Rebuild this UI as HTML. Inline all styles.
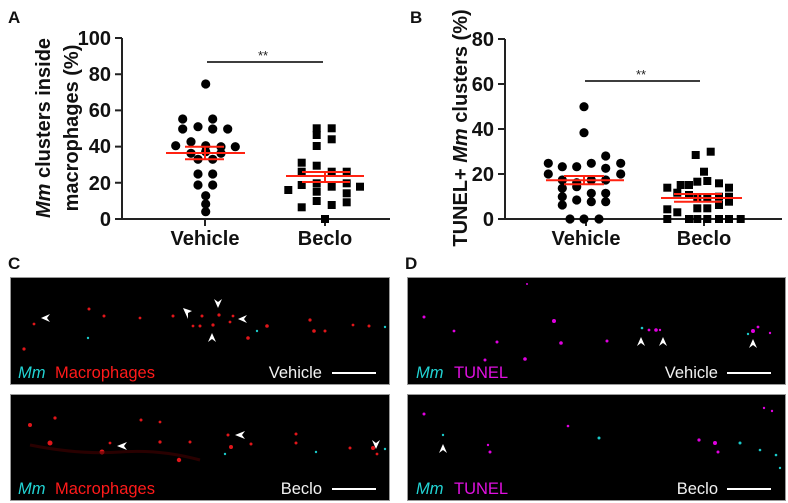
<!DOCTYPE html>
<html><head><meta charset="utf-8"><style>
html,body{margin:0;padding:0;background:#fff}
svg{display:block}
text{font-family:"Liberation Sans",Arial,sans-serif}
</style></head><body>
<svg width="788" height="503" viewBox="0 0 788 503" xmlns="http://www.w3.org/2000/svg">
<rect width="788" height="503" fill="#fff"/>
<g font-weight="bold" font-size="17" fill="#111">
<text x="8" y="23">A</text>
<text x="410" y="23">B</text>
<text x="8" y="269">C</text>
<text x="405" y="269">D</text>
</g>

<g stroke="#222" stroke-width="2" fill="none">
<path d="M122,38 V219 H390"/>
<path d="M115,38H122M115,74.2H122M115,110.4H122M115,146.6H122M115,182.8H122M115,219H122"/>
<path d="M205,219V226M325,219V226"/>
<path d="M207,62H323" stroke-width="1.8"/>
</g>
<g font-weight="bold" font-size="20" fill="#111" text-anchor="end">
<text x="111" y="45">100</text>
<text x="111" y="81">80</text>
<text x="111" y="117">60</text>
<text x="111" y="153">40</text>
<text x="111" y="190">20</text>
<text x="111" y="226">0</text>
</g>
<text x="263" y="60" font-size="13" text-anchor="middle" fill="#222">**</text>
<g font-weight="bold" font-size="20" fill="#111" text-anchor="middle">
<text x="205" y="245">Vehicle</text>
<text x="325" y="245">Beclo</text>
</g>
<g font-size="20" font-weight="bold" fill="#111" text-anchor="middle">
<text transform="translate(50,128) rotate(-90)"><tspan font-style="italic">Mm</tspan> clusters inside</text>
<text transform="translate(78,128) rotate(-90)">macrophages (%)</text>
</g>
<g fill="#000">
<circle cx="205.7" cy="84" r="4.6"/><circle cx="182.7" cy="119" r="4.6"/><circle cx="212.7" cy="119" r="4.6"/>
<circle cx="198" cy="126.7" r="4.6"/><circle cx="182.7" cy="129" r="4.6"/><circle cx="212.7" cy="129" r="4.6"/>
<circle cx="227.7" cy="129" r="4.6"/><circle cx="175.7" cy="145.7" r="4.6"/><circle cx="191" cy="141.7" r="4.6"/>
<circle cx="205.7" cy="145.7" r="4.6"/><circle cx="221" cy="146.7" r="4.6"/><circle cx="235.3" cy="146.7" r="4.6"/>
<circle cx="191" cy="153.3" r="4.6"/><circle cx="205.7" cy="151.7" r="4.6"/><circle cx="221" cy="153.3" r="4.6"/>
<circle cx="198" cy="159.3" r="4.6"/><circle cx="212.7" cy="159.3" r="4.6"/><circle cx="198" cy="174" r="4.6"/>
<circle cx="212.7" cy="174" r="4.6"/><circle cx="198" cy="185" r="4.6"/><circle cx="212.7" cy="185" r="4.6"/>
<circle cx="205.7" cy="195.7" r="4.6"/><circle cx="205.7" cy="204" r="4.6"/><circle cx="205.7" cy="211.7" r="4.6"/>
</g>
<g fill="#000">
<rect x="312.7" y="124.3" width="8" height="8"/><rect x="327.7" y="124.3" width="8" height="8"/>
<rect x="312.7" y="131" width="8" height="8"/><rect x="327.7" y="135.3" width="8" height="8"/>
<rect x="312.7" y="142" width="8" height="8"/><rect x="297.7" y="158.7" width="8" height="8"/>
<rect x="312.7" y="161.7" width="8" height="8"/><rect x="327.7" y="167.7" width="8" height="8"/>
<rect x="342.7" y="167.7" width="8" height="8"/><rect x="297.7" y="167.7" width="8" height="8"/>
<rect x="284.3" y="186" width="8" height="8"/><rect x="297.7" y="181" width="8" height="8"/>
<rect x="312.7" y="179.3" width="8" height="8"/><rect x="327.7" y="182.7" width="8" height="8"/>
<rect x="342.7" y="179.3" width="8" height="8"/><rect x="312.7" y="187.7" width="8" height="8"/>
<rect x="342.7" y="189.3" width="8" height="8"/><rect x="356" y="182.7" width="8" height="8"/>
<rect x="297.7" y="203.3" width="8" height="8"/><rect x="312.7" y="197" width="8" height="8"/>
<rect x="327.7" y="201" width="8" height="8"/><rect x="342.7" y="198.3" width="8" height="8"/>
<rect x="321" y="215" width="8" height="8"/>
</g>
<g stroke="#f21" stroke-width="2" fill="none">
<path d="M166,153H245M185,146.7H224M185,159.3H224M205,146.7V159.3"/>
<path d="M286,176H364M302,172H350M302,182H350M325,172V182"/>
</g>

<g stroke="#222" stroke-width="2" fill="none">
<path d="M505,39 V219 H782"/>
<path d="M498,39H505M498,84H505M498,129H505M498,174H505M498,219H505"/>
<path d="M586,219V226M704,219V226"/>
<path d="M585,81H700" stroke-width="1.8"/>
</g>
<g font-weight="bold" font-size="20" fill="#111" text-anchor="end">
<text x="494" y="46">80</text>
<text x="494" y="91">60</text>
<text x="494" y="136">40</text>
<text x="494" y="181">20</text>
<text x="494" y="226">0</text>
</g>
<text x="641" y="79" font-size="13" text-anchor="middle" fill="#222">**</text>
<g font-weight="bold" font-size="20" fill="#111" text-anchor="middle">
<text x="586" y="245">Vehicle</text>
<text x="704" y="245">Beclo</text>
</g>
<text transform="translate(467,128) rotate(-90)" font-size="20" font-weight="bold" fill="#111" text-anchor="middle">TUNEL+ <tspan font-style="italic">Mm</tspan> clusters (%)</text>
<g fill="#000">
<circle cx="584" cy="106.7" r="4.6"/><circle cx="584" cy="132.7" r="4.6"/><circle cx="605.7" cy="156" r="4.6"/>
<circle cx="548.3" cy="163.3" r="4.6"/><circle cx="562.3" cy="166.7" r="4.6"/><circle cx="576.7" cy="166.7" r="4.6"/>
<circle cx="591.3" cy="163.3" r="4.6"/><circle cx="605.7" cy="168.3" r="4.6"/><circle cx="620.7" cy="163.3" r="4.6"/>
<circle cx="548.3" cy="174" r="4.6"/><circle cx="620.7" cy="174" r="4.6"/><circle cx="562.3" cy="180" r="4.6"/>
<circle cx="576.7" cy="182.7" r="4.6"/><circle cx="591.3" cy="180" r="4.6"/><circle cx="605.7" cy="180" r="4.6"/>
<circle cx="562.3" cy="188.3" r="4.6"/><circle cx="576.7" cy="186.7" r="4.6"/><circle cx="591.3" cy="193.3" r="4.6"/>
<circle cx="605.7" cy="193.3" r="4.6"/><circle cx="562.3" cy="196.7" r="4.6"/><circle cx="576.7" cy="200" r="4.6"/>
<circle cx="591.3" cy="201.7" r="4.6"/><circle cx="605.7" cy="201.7" r="4.6"/><circle cx="562.3" cy="205" r="4.6"/>
<circle cx="570" cy="219" r="4.6"/><circle cx="584" cy="219" r="4.6"/><circle cx="599" cy="219" r="4.6"/>
</g>
<g fill="#000">
<rect x="691.7" y="151" width="8" height="8"/><rect x="706.7" y="147.7" width="8" height="8"/>
<rect x="700" y="167.7" width="8" height="8"/><rect x="663.3" y="183.7" width="8" height="8"/>
<rect x="676.7" y="181" width="8" height="8"/><rect x="685" y="181" width="8" height="8"/>
<rect x="693.3" y="177.7" width="8" height="8"/><rect x="703.3" y="177" width="8" height="8"/>
<rect x="715" y="179.3" width="8" height="8"/><rect x="725" y="183.7" width="8" height="8"/>
<rect x="673.3" y="188.7" width="8" height="8"/><rect x="685" y="191" width="8" height="8"/>
<rect x="693.3" y="194.3" width="8" height="8"/><rect x="703.3" y="194.3" width="8" height="8"/>
<rect x="715" y="192.7" width="8" height="8"/><rect x="725" y="192.7" width="8" height="8"/>
<rect x="663.3" y="205.3" width="8" height="8"/><rect x="673.3" y="208.3" width="8" height="8"/>
<rect x="693.3" y="204.3" width="8" height="8"/><rect x="703.3" y="204.3" width="8" height="8"/>
<rect x="715" y="201" width="8" height="8"/><rect x="725" y="197.7" width="8" height="8"/>
<rect x="663.3" y="215" width="8" height="8"/><rect x="685" y="215" width="8" height="8"/>
<rect x="693.3" y="215" width="8" height="8"/><rect x="703.3" y="215" width="8" height="8"/>
<rect x="715" y="215" width="8" height="8"/><rect x="725" y="215" width="8" height="8"/>
<rect x="736.7" y="215" width="8" height="8"/>
</g>
<g stroke="#f21" stroke-width="2" fill="none">
<path d="M546,180.3H624M564,176H604M564,184.3H604M584,176V184.3"/>
<path d="M661,198H742M674,194H722M674,201.7H722M698,194V201.7"/>
</g>

<g stroke="#999" stroke-width="1">
<rect x="10.5" y="277.5" width="379" height="107" fill="#000"/>
<rect x="10.5" y="394.5" width="379" height="106" fill="#000"/>
<rect x="407.5" y="277.5" width="378" height="107" fill="#000"/>
<rect x="407.5" y="394.5" width="378" height="106" fill="#000"/>
</g>
<g fill="#e0161a">
<circle cx="34" cy="324" r="1.4"/><circle cx="89" cy="309" r="1.5"/><circle cx="104" cy="316" r="1.5"/>
<circle cx="24" cy="349" r="1.6"/><circle cx="140" cy="318" r="1.4"/><circle cx="173" cy="316" r="1.5"/>
<circle cx="193" cy="326" r="1.4"/><circle cx="202" cy="316" r="1.5"/><circle cx="219" cy="315" r="1.6"/>
<circle cx="213" cy="325" r="1.6"/><circle cx="230" cy="322" r="1.4"/><circle cx="248" cy="338" r="1.8"/>
<circle cx="267" cy="326" r="1.8"/><circle cx="310" cy="320" r="1.6"/><circle cx="314" cy="331" r="1.8"/>
<circle cx="325" cy="331" r="1.5"/><circle cx="353" cy="325" r="1.4"/><circle cx="369" cy="326" r="1.5"/>
<circle cx="200" cy="326" r="1.5"/><circle cx="233" cy="316" r="1.4"/>
</g>
<g fill="#1ac8c8"><circle cx="88" cy="338" r="1.2"/><circle cx="385" cy="327" r="1.2"/><circle cx="257" cy="331" r="1.2"/></g>
<g fill="#fff">
<path d="M41,318 l9,-4 l-3,4 l3,4z"/>
<path d="M183,308 l9,3 l-4,2 l0,6z"/>
<path d="M218,303 l-4,9 l4,-3 l4,3z" transform="translate(0,-3) rotate(180 218 307)"/>
<path d="M238,319 l9,-4 l-3,4 l3,4z"/>
<path d="M212,343 l-4,-9 l4,3 l4,-3z" transform="rotate(180 212 338)"/>
</g>
<g font-size="16.5">
<text x="18" y="378" fill="#22d4d4" font-style="italic">Mm</text>
<text x="55" y="378" fill="#ff1a1a">Macrophages</text>
<text x="322" y="378" fill="#f2f2f2" text-anchor="end">Vehicle</text>
<text x="18" y="494" fill="#22d4d4" font-style="italic">Mm</text>
<text x="55" y="494" fill="#ff1a1a">Macrophages</text>
<text x="322" y="494" fill="#f2f2f2" text-anchor="end">Beclo</text>
</g>
<rect x="332" y="372" width="44" height="2" fill="#fff"/>
<rect x="332" y="488" width="44" height="2" fill="#fff"/>
<g fill="#e0161a">
<circle cx="30" cy="425" r="2"/><circle cx="50" cy="443" r="2.5"/><circle cx="55" cy="418" r="1.6"/>
<circle cx="102" cy="452" r="2.5"/><circle cx="110" cy="443" r="1.4"/><circle cx="141" cy="420" r="1.5"/>
<circle cx="160" cy="442" r="1.6"/><circle cx="179" cy="460" r="2.2"/><circle cx="190" cy="442" r="1.5"/>
<circle cx="228" cy="435" r="1.5"/><circle cx="231" cy="447" r="2"/><circle cx="251" cy="444" r="1.5"/>
<circle cx="296" cy="434" r="1.5"/><circle cx="296" cy="443" r="1.5"/><circle cx="350" cy="448" r="1.5"/>
<circle cx="373" cy="448" r="2"/><circle cx="377" cy="454" r="1.4"/><circle cx="160" cy="422" r="1.4"/>
</g>
<path d="M30,445 Q80,455 120,452 T200,460" stroke="#400" stroke-width="3" fill="none" opacity="0.6"/>
<g fill="#1ac8c8"><circle cx="225" cy="454" r="1.2"/><circle cx="316" cy="452" r="1.2"/><circle cx="385" cy="449" r="1.2"/></g>
<g fill="#fff">
<path d="M117,446 l10,-4 l-3,4 l3,4z"/>
<path d="M235,435 l10,-4 l-3,4 l3,4z"/>
<path d="M372,440 l4,9 l4,-9 l-4,3z"/>
</g>

<g fill="#e000e0">
<circle cx="424" cy="317" r="1.5"/><circle cx="454" cy="331" r="1.4"/><circle cx="497" cy="342" r="1.5"/>
<circle cx="485" cy="360" r="1.5"/><circle cx="525" cy="359" r="1.8"/><circle cx="554" cy="321" r="2"/>
<circle cx="561" cy="343" r="1.8"/><circle cx="607" cy="341" r="1.5"/><circle cx="649" cy="330" r="1.4"/>
<circle cx="656" cy="330" r="1.8"/><circle cx="660" cy="330" r="1.2"/><circle cx="753" cy="331" r="2"/>
<circle cx="758" cy="327" r="1.4"/><circle cx="770" cy="333" r="1.2"/><circle cx="527" cy="284" r="1"/>
<circle cx="424" cy="414" r="1.5"/><circle cx="490" cy="452" r="1.5"/><circle cx="568" cy="426" r="1.3"/>
<circle cx="699" cy="440" r="1.6"/><circle cx="715" cy="443" r="2"/><circle cx="718" cy="452" r="1.5"/>
<circle cx="488" cy="445" r="1.2"/><circle cx="772" cy="411" r="1.2"/><circle cx="764" cy="408" r="1.2"/>
</g>
<g fill="#1ac8c8">
<circle cx="642" cy="328" r="1.3"/><circle cx="748" cy="334" r="1.2"/><circle cx="599" cy="438" r="1.5"/>
<circle cx="740" cy="443" r="1.5"/><circle cx="760" cy="450" r="1.3"/><circle cx="776" cy="455" r="1.3"/>
<circle cx="780" cy="468" r="1.2"/><circle cx="443" cy="435" r="1.2"/>
</g>
<g fill="#fff">
<path d="M641,337 l-4,9 l4,-3 l4,3z"/>
<path d="M663,337 l-4,9 l4,-3 l4,3z"/>
<path d="M753,339 l-4,9 l4,-3 l4,3z"/>
<path d="M443,444 l-4,9 l4,-3 l4,3z"/>
</g>
<g font-size="16.5">
<text x="416" y="378" fill="#22d4d4" font-style="italic">Mm</text>
<text x="454" y="378" fill="#e010e0">TUNEL</text>
<text x="718" y="378" fill="#f2f2f2" text-anchor="end">Vehicle</text>
<text x="416" y="494" fill="#22d4d4" font-style="italic">Mm</text>
<text x="454" y="494" fill="#e010e0">TUNEL</text>
<text x="718" y="494" fill="#f2f2f2" text-anchor="end">Beclo</text>
</g>
<rect x="727" y="372" width="44" height="2" fill="#fff"/>
<rect x="727" y="488" width="44" height="2" fill="#fff"/>
</svg>
</body></html>
